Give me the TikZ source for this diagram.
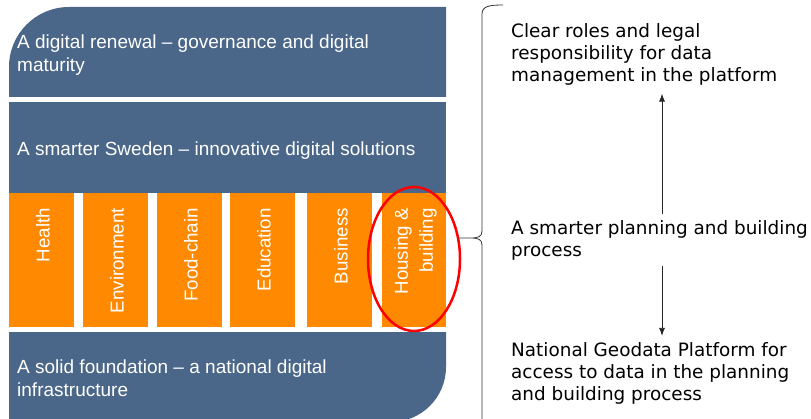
\documentclass[tikz,border=0pt]{standalone}
\usepackage{fontspec}
\setmainfont{Liberation Sans}
\newfontfamily\goalfont{DejaVu Sans}
\usepackage{tikz}
\usetikzlibrary{arrows.meta, positioning, shapes.geometric}
\definecolor{bandblue}{RGB}{74, 102, 136}
\definecolor{pillarorange}{RGB}{255, 137, 0}

\begin{document}
\begin{tikzpicture}[x=1pt, y=1pt]
\tikzstyle{band} = [fill=bandblue]
\tikzstyle{bandtext} = [anchor=west, align=left, text=white, inner sep=0pt, font=\fontsize{19}{23}\selectfont]
\tikzstyle{pillar} = [rectangle, fill=pillarorange, minimum width=64.5pt, minimum height=134pt, anchor=north west, inner sep=0pt]
\tikzstyle{pillartext} = [rotate=90, anchor=east, align=right, text=white, inner sep=0pt, font=\fontsize{18.7}{25}\selectfont]
\tikzstyle{goal} = [anchor=west, align=left, inner sep=0pt, font=\goalfont\fontsize{18.4}{22}\selectfont]
\tikzstyle{arrow} = [line width=0.8pt, black!85, -{Latex[length=8pt, width=6pt]}]

\useasboundingbox (0,0) rectangle (811,418);

% the three blue bands
\fill [band] (9,321) -- (9,351) arc[start angle=180, end angle=90, radius=60] -- (446,411) -- (446,321) -- cycle;
\fill [band] (9,225) rectangle (446,316);
\fill [band] (9,86) -- (446,86) -- (446,51) arc[start angle=0, end angle=-90, radius=55] -- (9,-4) -- cycle;

\node (renewal) [bandtext] at (17,362.5) {A digital renewal -- governance and digital\\maturity};
\node (smarter) [bandtext] at (17,267.5) {A smarter Sweden -- innovative digital solutions};
\node (foundation) [bandtext] at (17,40) {A solid foundation -- a national digital\\infrastructure};

% orange pillars
\foreach \x/\name/\label in {9/health/Health, 83/environment/Environment, 157/foodchain/Food-chain, 230/education/Education, 307/business/Business, 381.5/housing/{Housing \&\\building}}
{
  \node (\name) [pillar] at (\x,225) {};
  \node (\name-label) [pillartext] at ([xshift=1.5pt, yshift=-15pt]\name.north) {\label};
}

\node (focus) [ellipse, draw=red, line width=2.5pt, minimum width=92pt, minimum height=144pt, inner sep=0pt] at (414,159) {};

% brace
\draw [line width=0.8pt, black!80] (503,413) .. controls (490,413) and (482,412) .. (482,404)
  -- (482,187) .. controls (482,181) and (478,180) .. (470,180) -- (458,180)
  -- (470,180) .. controls (478,180) and (482,179) .. (482,173) -- (482,-5);

% goals on the right
\node (roles) [goal] at (511,363.5) {Clear roles and legal\\responsibility for data\\management in the platform};
\node (process) [goal] at (511,178) {A smarter planning and building\\process};
\node (geodata) [goal] at (511,45) {National Geodata Platform for\\access to data in the planning\\and building process};

\coordinate (axis) at (662,0);
\draw [arrow, shorten <=6pt, shorten >=8pt] (process.north -| axis) -- (roles.south -| axis);
\draw [arrow, shorten <=6pt, shorten >=6pt] (process.south -| axis) -- (geodata.north -| axis);
\end{tikzpicture}
\end{document}
